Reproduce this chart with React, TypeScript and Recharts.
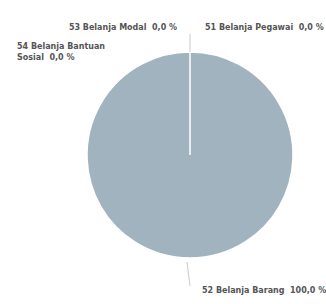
import React from "react";
import { PieChart, Pie, Cell } from "recharts";

const names = ["51 Belanja Pegawai", "52 Belanja Barang", "53 Belanja Modal", "54 Belanja Bantuan Sosial"];
const values = [0, 100, 0, 0];
const percentLabels = ["0,0 %", "100,0 %", "0,0 %", "0,0 %"];

const data = names.map((name, i) => ({ name, value: values[i], pct: percentLabels[i] }));

const SLICE = "#a1b3bf";
const TEXT = "#555555";
const FONT = "'DejaVu Sans', Verdana, sans-serif";

const renderLabel = (props: any) => {
  const { cx, cy, outerRadius, index } = props;
  const d = data[index];
  const common = { fill: TEXT, fontSize: 8, fontWeight: 700, fontFamily: FONT, style: { whiteSpace: "pre" } } as const;
  if (index === 0) {
    return (
      <g key="l0">
        <line x1={cx} y1={cy - outerRadius} x2={cx} y2={cy - outerRadius - 18} stroke="#bbbbbb" strokeWidth={0.8} />
        <text x={cx + 15} y={cy - outerRadius - 22} {...common}>{`${d.name}  ${d.pct}`}</text>
      </g>
    );
  }
  if (index === 1) {
    return (
      <g key="l1">
        <line x1={cx - 3} y1={cy + outerRadius + 4} x2={cx} y2={cy + outerRadius + 28} stroke="#bbbbbb" strokeWidth={0.8} />
        <text x={cx + 12} y={cy + outerRadius + 35} {...common}>{`${d.name}  ${d.pct}`}</text>
      </g>
    );
  }
  if (index === 2) {
    return (
      <text key="l2" x={cx - 13} y={cy - outerRadius - 22} textAnchor="end" {...common}>{`${d.name}  ${d.pct}`}</text>
    );
  }
  return (
    <text key="l3" x={cx - 173} y={cy - outerRadius - 3} {...common}>
      <tspan x={cx - 173}>54 Belanja Bantuan</tspan>
      <tspan x={cx - 173} dy={11}>{`Sosial  ${d.pct}`}</tspan>
    </text>
  );
};

export default function App() {
  return (
    <div style={{ position: "absolute", left: 0, top: 0, width: 326, height: 304, background: "#fff" }}>
      <PieChart width={326} height={304} margin={{ top: 0, right: 0, bottom: 0, left: 0 }}>
        <Pie
          data={data}
          dataKey="value"
          nameKey="name"
          cx={190}
          cy={155}
          outerRadius={103}
          startAngle={90}
          endAngle={-270}
          stroke="#ffffff"
          strokeWidth={1.5}
          label={renderLabel}
          labelLine={false}
          isAnimationActive={false}
        >
          {data.map((d) => (
            <Cell key={d.name} fill={SLICE} />
          ))}
        </Pie>
      </PieChart>
    </div>
  );
}
